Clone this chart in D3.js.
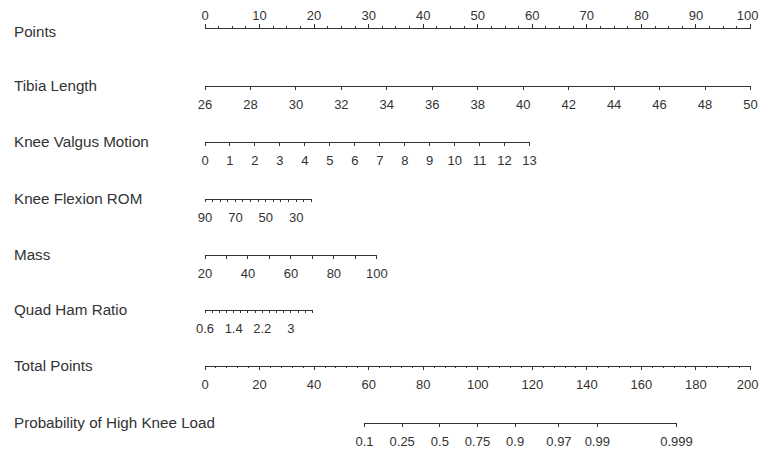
<!DOCTYPE html>
<html>
<head>
  <style type="text/css">
    body { margin: 0; background: #fff; }
    svg { display: block; }
    .axis path, .axis line {
      fill: none;
      stroke: #333;
      shape-rendering: crispEdges;
    }
    .axis text {
      font: 13px "Liberation Sans", Arial, sans-serif;
      fill: #333;
    }
    .row-label {
      font: 15.2px "Liberation Sans", Arial, sans-serif;
      fill: #333;
    }
  </style>
</head>
<body>
  <div class="svg_container"></div>
  <script src="https://cdnjs.cloudflare.com/ajax/libs/d3/7.8.5/d3.min.js"></script>
  <script type="text/javascript">
    // tick labels
    var pointsLabels  = [0, 10, 20, 30, 40, 50, 60, 70, 80, 90, 100];
    var tibiaLabels   = [26, 28, 30, 32, 34, 36, 38, 40, 42, 44, 46, 48, 50];
    var valgusLabels  = [0, 1, 2, 3, 4, 5, 6, 7, 8, 9, 10, 11, 12, 13];
    var flexionLabels = [90, 70, 50, 30];
    var massLabels    = [20, 40, 60, 80, 100];
    var quadHamLabels = [0.6, 1.4, 2.2, 3];
    var totalLabels   = [0, 20, 40, 60, 80, 100, 120, 140, 160, 180, 200];
    var probLabels    = [0.1, 0.25, 0.5, 0.75, 0.9, 0.97, 0.99, 0.999];

    // each predictor's value range and the points it is worth
    var tibiaRange   = [26, 50],   tibiaPoints   = [0, 100];
    var valgusRange  = [0, 13],    valgusPoints  = [0, 59.5];
    var flexionRange = [90, 20],   flexionPoints = [0, 19.5];
    var massRange    = [20, 100],  massPoints    = [0, 31.5];
    var quadHamRange = [0.6, 3.6], quadHamPoints = [0, 19.7];

    // total points where probability is 0.5, and logit change per total point
    var totalAtHalf = 86.1;
    var logitPerPoint = 0.0796;

    var width = 760, height = 452;
    var left = 204.5, right = 750;

    var svg = d3.select(".svg_container").append("svg")
      .attr("width", width)
      .attr("height", height);

    var xPoints = d3.scaleLinear().domain([0, 100]).range([left, right]);
    var xTotal = d3.scaleLinear().domain([0, 200]).range([left, right]);

    function varScale(range, pts) {
      return d3.scaleLinear().domain(range).range(pts.map(xPoints));
    }

    function logit(p) { return Math.log(p / (1 - p)); }

    var probLogits = probLabels.map(logit);
    var lo = probLogits[0], hi = probLogits[probLogits.length - 1];
    var xProb = d3.scaleLinear()
      .domain([lo, hi])
      .range([xTotal(totalAtHalf + lo / logitPerPoint), xTotal(totalAtHalf + hi / logitPerPoint)]);

    var rows = [
      { name: "Points", y: 28, top: true, scale: xPoints, ticks: pointsLabels,
        minor: d3.range(0, 100.1, 2.5), size: 4, minorSize: 2, labelDy: 4 },
      { name: "Tibia Length", y: 86, scale: varScale(tibiaRange, tibiaPoints),
        ticks: tibiaLabels, size: 4 },
      { name: "Knee Valgus Motion", y: 142, scale: varScale(valgusRange, valgusPoints),
        ticks: valgusLabels, size: 4 },
      { name: "Knee Flexion ROM", y: 199, scale: varScale(flexionRange, flexionPoints),
        ticks: flexionLabels, minor: d3.range(90, 19, -5), size: 3, minorSize: 3 },
      { name: "Mass", y: 255, scale: varScale(massRange, massPoints),
        ticks: massLabels, minor: d3.range(20, 101, 10), size: 4, minorSize: 4 },
      { name: "Quad Ham Ratio", y: 310, scale: varScale(quadHamRange, quadHamPoints),
        ticks: quadHamLabels, minor: d3.range(0.6, 3.61, 0.2), size: 3, minorSize: 3 },
      { name: "Total Points", y: 366, scale: xTotal, ticks: totalLabels,
        minor: d3.range(0, 200.1, 4), size: 4, minorSize: 2 },
      { name: "Probability of High Knee Load", y: 423, scale: xProb, ticks: probLogits,
        format: function(d, i) { return probLabels[i]; }, size: 4 }
    ];

    rows.forEach(function(row) {
      var g = svg.append("g")
        .attr("class", "axis")
        .attr("transform", "translate(0," + row.y + ")");
      var axisFn = row.top ? d3.axisTop : d3.axisBottom;

      if (row.minor) {
        g.append("g").call(axisFn(row.scale)
          .tickValues(row.minor)
          .tickSize(row.minorSize)
          .tickSizeOuter(0)
          .tickFormat(""));
      }

      var pad = row.top ? 8 - row.size : 13.7 - row.size;
      var major = g.append("g").call(axisFn(row.scale)
        .tickValues(row.ticks)
        .tickSize(row.size)
        .tickSizeOuter(0)
        .tickPadding(pad)
        .tickFormat(row.format || function(d) { return d; }));

      // keep labels at the right end inside the page
      major.selectAll(".tick text").each(function(d) {
        var w = this.getComputedTextLength();
        var over = row.scale(d) + w / 2 - (width - 2);
        if (over > 0) d3.select(this).attr("x", -over);
      });

      svg.append("text")
        .attr("class", "row-label")
        .attr("x", 14)
        .attr("y", row.y + (row.labelDy || 0))
        .attr("dy", "0.35em")
        .text(row.name);
    });
  </script>
</body>
</html>
